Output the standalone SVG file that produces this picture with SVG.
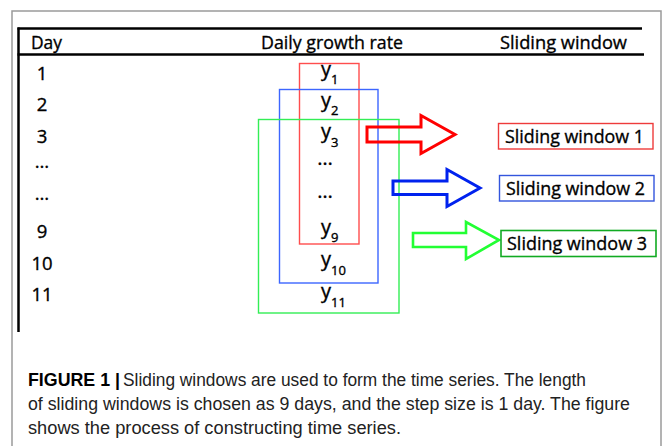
<svg xmlns="http://www.w3.org/2000/svg" width="664" height="446" viewBox="0 0 664 446">
<style>
.t{font-family:"Open Sans","Noto Sans","Liberation Sans",sans-serif;fill:#000;stroke:#000;stroke-width:0.35px;}
.hd{font-size:19px;}
.day{font-size:18.5px;text-anchor:middle;}
.yv{font-size:20px;}
.sub{font-size:13px;}
.lbl{font-size:19px;}
.cap{font-family:"Liberation Sans",Arial,sans-serif;font-size:17.5px;fill:#222;}
.capb{font-family:"Liberation Sans",Arial,sans-serif;font-size:17.5px;font-weight:bold;fill:#000;}
.arrow{fill:none;stroke-linejoin:miter;}
</style>
<rect width="664" height="446" fill="#ffffff"/>
<rect x="12" y="11" width="649" height="460" fill="none" stroke="#9a9a9a" stroke-width="1.5"/>

<g id="table-frame" stroke="#000" stroke-width="2.5">
<line x1="17.5" y1="28.5" x2="642" y2="28.5"/>
<line x1="17.5" y1="54.5" x2="644" y2="54.5"/>
<line x1="18.5" y1="27.5" x2="18.5" y2="332"/>
</g>

<g id="headers" class="t hd">
<text x="31" y="49" textLength="31" lengthAdjust="spacingAndGlyphs">Day</text>
<text x="261" y="49" textLength="142" lengthAdjust="spacingAndGlyphs">Daily growth rate</text>
<text x="500" y="49" textLength="127" lengthAdjust="spacingAndGlyphs">Sliding window</text>
</g>

<g id="day-column" class="t day">
<text x="42" y="80">1</text>
<text x="42" y="111">2</text>
<text x="42" y="143">3</text>
<text x="42" y="168">…</text>
<text x="42" y="200">…</text>
<text x="42" y="238">9</text>
<text x="42" y="270">10</text>
<text x="42" y="301">11</text>
</g>

<g id="values" class="t">
<text class="yv" x="321" y="76">y<tspan class="sub" dy="8">1</tspan></text>
<text class="yv" x="321" y="107">y<tspan class="sub" dy="8">2</tspan></text>
<text class="yv" x="321" y="138">y<tspan class="sub" dy="9">3</tspan></text>
<text class="yv" x="325" y="165" text-anchor="middle">…</text>
<text class="yv" x="325" y="198" text-anchor="middle">…</text>
<text class="yv" x="321" y="234">y<tspan class="sub" dy="8">9</tspan></text>
<text class="yv" x="321" y="266">y<tspan class="sub" dy="9">10</tspan></text>
<text class="yv" x="321" y="298">y<tspan class="sub" dy="9">11</tspan></text>
</g>

<g id="window-1"><rect x="299.5" y="63.5" width="59.5" height="180.5" fill="none" stroke="#ff4d4d" stroke-width="1.4"/></g>
<g id="window-2"><rect x="279.5" y="89.5" width="98.5" height="193.5" fill="none" stroke="#3d66ff" stroke-width="1.4"/></g>
<g id="window-3"><rect x="258.5" y="119.5" width="140.5" height="193.5" fill="none" stroke="#33ee55" stroke-width="1.4"/></g>

<g id="connectors">
<polygon class="arrow" stroke="#ff0000" stroke-width="3" points="367,127 421,127 421,115.5 455,134.5 421,153.5 421,142 367,142"/>
<polygon class="arrow" stroke="#0022ee" stroke-width="3" points="393,181 447,181 447,169.5 480,188 447,206.5 447,194.5 393,194.5"/>
<polygon class="arrow" stroke="#22ff33" stroke-width="2.6" points="413,233 466,233 466,222 499,240 466,259 466,247 413,247"/>
</g>

<g id="label-1">
<rect x="498.5" y="123.5" width="154.5" height="25.5" fill="#fff" stroke="#ee3b3b" stroke-width="1.4"/>
<text class="t lbl" x="505" y="143" textLength="139" lengthAdjust="spacingAndGlyphs">Sliding window 1</text>
</g>
<g id="label-2">
<rect x="499.5" y="175.5" width="154.5" height="25.5" fill="#fff" stroke="#3355dd" stroke-width="1.4"/>
<text class="t lbl" x="506" y="195" textLength="139" lengthAdjust="spacingAndGlyphs">Sliding window 2</text>
</g>
<g id="label-3">
<rect x="501" y="230.5" width="155" height="26" fill="#fff" stroke="#11aa22" stroke-width="1.6"/>
<text class="t lbl" x="507" y="250" textLength="140" lengthAdjust="spacingAndGlyphs">Sliding window 3</text>
</g>

<g id="caption">
<text class="capb" x="28" y="386" textLength="92" lengthAdjust="spacingAndGlyphs">FIGURE 1 |</text>
<text class="cap" x="123" y="386" textLength="463" lengthAdjust="spacingAndGlyphs">Sliding windows are used to form the time series. The length</text>
<text class="cap" x="28" y="410" textLength="602" lengthAdjust="spacingAndGlyphs">of sliding windows is chosen as 9 days, and the step size is 1 day. The figure</text>
<text class="cap" x="28" y="434" textLength="373" lengthAdjust="spacingAndGlyphs">shows the process of constructing time series.</text>
</g>
</svg>
